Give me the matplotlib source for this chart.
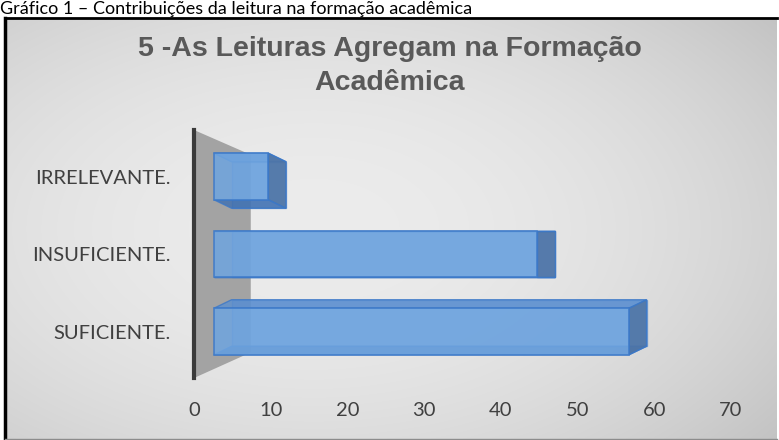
import numpy as np
import matplotlib
matplotlib.use('Agg')
import matplotlib.pyplot as plt
from matplotlib.patches import Polygon
from matplotlib.lines import Line2D

# dados do gráfico
categories = ['SUFICIENTE.', 'INSUFICIENTE.', 'IRRELEVANTE.']
values = [59, 47, 12]
xticks = [0, 10, 20, 30, 40, 50, 60, 70]

W, H = 779, 440
fig = plt.figure(figsize=(W / 100, H / 100), dpi=100, facecolor='white')

# legenda do documento
fig.text(0, 1 - 14 / H, 'Gráfico 1 – Contribuições da leitura na formação acadêmica',
         ha='left', va='baseline', fontsize=13, family='Lato', color='black')

# fundo em degradê cinza
bg = fig.add_axes([5 / W, 0, 772 / W, 422 / H])
X, Y = np.meshgrid(np.linspace(0, 1, 400), np.linspace(0, 1, 200))
g = 0.925 - 0.10 * ((X - 0.40) / 0.60) ** 2 - 0.06 * ((Y - 0.5) / 0.5) ** 2
bg.imshow(np.dstack([g, g, g]), aspect='auto', interpolation='bilinear')
bg.axis('off')

# moldura
fig.add_artist(Line2D([5 / W, 5 / W], [0, 422 / H], color='black', lw=2.5))
fig.add_artist(Line2D([5 / W, 777 / W], [422 / H, 422 / H], color='black', lw=2))
fig.add_artist(Line2D([5 / W, 777 / W], [1.5 / H, 1.5 / H], color='#8c8c8c', lw=1))

# título
fig.text(390 / W, 1 - 36 / H, '5 -As Leituras Agregam na Formação\nAcadêmica',
         ha='center', va='top', fontsize=20.5, fontweight='bold',
         family='Liberation Sans', color='#595959', linespacing=1.4)

ax = fig.add_axes([194 / W, (H - 378) / H, (731 - 194) / W, 248 / H])
ax.set_facecolor('none')
ax.set_xlim(0, 70)
ax.set_ylim(-0.6, 2.6)

# parede lateral 3D
wall = Polygon([(0, 2.6), (7.4, 2.28), (7.4, -0.27), (0, -0.6)],
               closed=True, facecolor='#a3a3a3', edgecolor='none', zorder=1)
ax.add_patch(wall)
for s in ['top', 'right', 'bottom']:
    ax.spines[s].set_visible(False)
ax.spines['left'].set_color('#3a3a3a')
ax.spines['left'].set_linewidth(3)
ax.spines['left'].set_zorder(2)

# barras 3D
bar_h = 0.6
x0 = 2.6
dx = 2.3
edge = '#3b78c8'
for i, v in enumerate(values):
    dy = -0.11 * (i - 1)
    x1 = v - dx
    yb, yt = i - bar_h / 2, i + bar_h / 2
    back = Polygon([(x0 + dx, yb + dy), (v, yb + dy), (v, yt + dy), (x0 + dx, yt + dy)],
                   facecolor='#5b8fd0', edgecolor=edge, alpha=0.5, lw=1, zorder=3)
    top = Polygon([(x0, yt), (x1, yt), (v, yt + dy), (x0 + dx, yt + dy)],
                  facecolor='#5b8fd0', edgecolor=edge, alpha=0.8, lw=1, zorder=4)
    bottom = Polygon([(x0, yb), (x1, yb), (v, yb + dy), (x0 + dx, yb + dy)],
                     facecolor='#3e6fb0', edgecolor=edge, alpha=0.8, lw=1, zorder=4)
    side = Polygon([(x1, yb), (x1, yt), (v, yt + dy), (v, yb + dy)],
                   facecolor='#4d74a6', edgecolor=edge, alpha=0.9, lw=1, zorder=5)
    front = Polygon([(x0, yb), (x1, yb), (x1, yt), (x0, yt)],
                    facecolor='#6fa5e0', edgecolor=edge, alpha=0.85, lw=1.2, zorder=6)
    for p in (back, top, bottom, side, front):
        ax.add_patch(p)

ax.set_yticks(range(len(categories)))
ax.set_yticklabels(categories, family='Lato', fontsize=14.5, color='#404040')
ax.set_xticks(xticks)
ax.set_xticklabels([str(t) for t in xticks], family='Lato', fontsize=14.5, color='#404040')
ax.tick_params(axis='y', length=0, pad=17)
ax.tick_params(axis='x', length=0, pad=17)

fig.savefig('out.png', dpi=100)
